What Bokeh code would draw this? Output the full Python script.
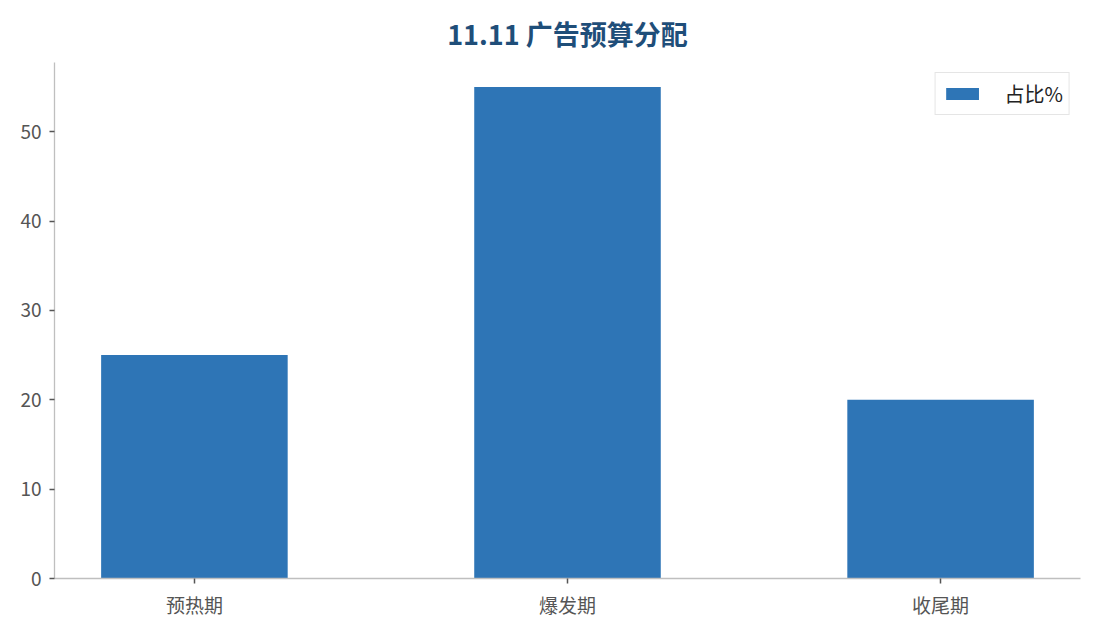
from bokeh.plotting import figure
from bokeh.models import Range1d, FixedTicker, Legend, LegendItem, ColumnDataSource
from bokeh.embed import file_html
from bokeh.resources import INLINE

categories = ["预热期", "爆发期", "收尾期"]
share_pct = [25, 55, 20]
y_ticks = [0, 10, 20, 30, 40, 50]
title_text = "11.11 广告预算分配"
legend_label = "占比%"

FONT = "Noto Sans CJK SC"
BAR = "#2e75b6"
SPINE = "#bfbfbf"

xs = list(range(len(categories)))
src = ColumnDataSource(dict(x=xs, top=share_pct))

p = figure(
    frame_width=1026, frame_height=516,
    min_border_left=54, min_border_right=15, min_border_top=62, min_border_bottom=52,
    x_range=Range1d(-0.375, len(categories) - 1 + 0.375),
    y_range=Range1d(0, max(share_pct) * 1.05),
    output_backend="svg", toolbar_location=None,
)
p.title.text = title_text
p.title.align = "center"
p.title.text_font = FONT
p.title.text_font_size = "27px"
p.title.text_font_style = "bold"
p.title.text_color = "#1f4e79"
p.title.standoff = 20

r = p.vbar(x="x", top="top", width=0.5, bottom=0, source=src, fill_color=BAR, line_color=None)

p.outline_line_color = None
p.xgrid.grid_line_color = None
p.ygrid.grid_line_color = None

for ax in (p.xaxis[0], p.yaxis[0]):
    ax.axis_line_color = SPINE
    ax.axis_line_width = 1.3
    ax.major_tick_line_color = "#555555"
    ax.major_tick_line_width = 1.5
    ax.major_tick_out = 5
    ax.major_tick_in = 0
    ax.minor_tick_line_color = None
    ax.major_label_text_font = FONT
    ax.major_label_text_font_size = "19px"
    ax.major_label_text_color = "#555555"

p.xaxis.ticker = FixedTicker(ticks=xs)
p.xaxis.major_label_overrides = {i: c for i, c in enumerate(categories)}
p.xaxis.major_label_standoff = 7
p.yaxis.ticker = FixedTicker(ticks=y_ticks)
p.yaxis.major_label_standoff = 8

legend = Legend(items=[LegendItem(label=legend_label, renderers=[r])],
                location="top_right")
legend.glyph_width = 41
legend.glyph_height = 15
legend.label_standoff = 22
legend.label_text_font = FONT
legend.label_text_font_size = "20px"
legend.label_text_color = "#222222"
legend.border_line_color = "#cccccc"
legend.border_line_width = 1.5
legend.padding = 6
legend.margin = 10
legend.label_height = 22
p.add_layout(legend)

open("out.html", "w").write(file_html(p, INLINE))
